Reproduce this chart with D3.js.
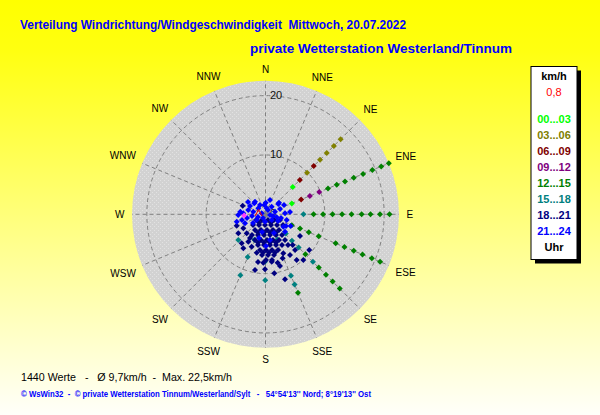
<!DOCTYPE html>
<html>
<head>
<meta charset="utf-8">
<script src="https://cdn.jsdelivr.net/npm/d3@7"></script>
<style>
  body { margin: 0; overflow: hidden; }
  svg { display: block; font-family: "Liberation Sans", Arial, sans-serif; }
  text { white-space: pre; }
</style>
</head>
<body>
<div id="chart"></div>
<script>
const width = 600, height = 415;

// ---- data ----
const directions = ["N","NNE","NE","ENE","E","ESE","SE","SSE","S","SSW","SW","WSW","W","WNW","NW","NNW"];
const ringValues = [0, 10, 20];
const maxSpeed = 22.5;
const hourLabels = ["00...03","03...06","06...09","09...12","12...15","15...18","18...21","21...24"];
const hourColors = ["#00ff00","#808000","#800000","#800080","#008000","#008080","#000080","#0000ff"];

// [direction in degrees, speed in km/h]
const hours00to03 = [[45,6.5],[67.5,4.8]];
const hours03to06 = [[45,9.9],[45,13.0],[45,14.6],[45,16.3],[45,17.9]];
const hours06to09 = [[45,8.2],[45,11.5],[67.5,6.5]];
const hours09to12 = [[67.5,8.1],[67.5,9.8]];
const hours12to15 = [
  [67.5,11.4],[67.5,13.0],[67.5,14.5],[67.5,16.1],[67.5,17.8],[67.5,19.5],[67.5,21.1],[67.5,22.5],
  [90,8.1],[90,9.7],[90,11.3],[90,12.9],[90,14.5],[90,16.2],[90,17.7],[90,19.3],[90,20.9],
  [112.5,4.8],[112.5,6.3],[112.5,7.9],[112.5,9.7],[112.5,12.8],[112.5,14.4],[112.5,16.1],[112.5,17.7],[112.5,19.4],[112.5,20.9],
  [135,9.5],[135,12.7],[135,14.4],[135,16.0],[135,17.7],
  [157.5,14.3]
];
const hours15to18 = [
  [90,6.4],[135,6.3],[135,7.9],[135,11.3],[157.5,11.2],[157.5,12.8],
  [226.6,6.3],[202.6,7.8],[202.4,11.1],[180.2,11.1],[133.3,4.7],[180.6,8.0],[203.5,4.7],[154.7,4.7]
];
const hours18to21 = [
  [239,1.87],[211.6,1.13],[156.3,1.05],[123.8,1.72],[111.5,2.63],
  [229.4,2.77],[211.3,2.11],[182.7,1.8],[152.8,2.03],[132.9,2.65],[121.4,3.46],
  [213.8,3.18],[196,2.75],[174.5,2.66],[154.5,2.93],[139.3,3.49],
  [213.1,4.17],[199.9,3.71],[184.1,3.5],[167.7,3.57],[153.1,3.91],[141.4,4.46],
  [202.2,4.68],[189.9,4.4],[176.7,4.34],[163.7,4.51],[152.3,4.89],[142.8,5.44],
  [193.7,5.33],[182.8,5.18],[171.7,5.23],[161.1,5.47],[151.7,5.87],
  [188.8,6.09],[179.2,6.02],[169.7,6.12],[160.7,6.38],
  [184.9,6.89],[176.5,6.87],[168.2,7.01],
  [179.4,7.7],[171.9,7.78],
  [248.4,5.22],[237.8,4.42],[235.1,5.59],[224.7,4.5],[219.4,6.32],[212.1,5.45],[213.1,6.84],
  [203.1,5.94],[192.9,6.64],[190.7,9.55],[180.5,9.27],[171.5,10.05],[163.3,11.44],[158.7,7.96],
  [149,8.01],[140.4,7.81],[122.2,6.87],[138.5,6.91],[155.5,7.23],[165.9,8.41],[172.5,8.06],
  [182.6,8.17],[290.7,4.11],[129.2,9.52],[140.4,10.0],[145.7,9.33],
  [213.2,4.77],[143.8,6.42],[188.9,8.14],[164.3,9.05],
  [202.4,3.32],[184.7,3.08],[166.1,3.16],[150,3.54],
  [194.9,4.92],[183,4.76],[170.9,4.81],[159.6,5.07],
  [183.7,6.45],[174.8,6.47],[166,6.63],
  [218.4,1.76],[146.1,1.66]
];
const hours21to24 = [
  [314.5,2.65],[352.6,1.58],[11.3,1.03],[39.2,1.65],[51.2,2.77],[74.7,1.66],[98.8,0.77],
  [284.7,0.66],[282,2.1],[284,3.0],[272.6,3.75],[268.5,4.6],[255.6,5.0],[246.3,3.77],
  [87.1,3.29],[105.1,3.7],[124.9,3.66],[131.7,4.4],[237,1.77],[183.9,1.25],[132.6,1.42],
  [105,1.95],[309.8,1.58],[1,1.96],[49.3,3.0],[275.9,4.27],[114.9,4.68],[119.7,3.98],
  [320.2,2.76],[191.2,3.04],[170.1,4.4],[179.1,5.34],[195.3,4.14],[155.6,3.46],
  [329.4,1.82],[30.2,0.84],[102.8,1.3],[250.2,1.34],[214,0.75],[69.9,2.6],[298.2,2.96],
  [258.7,3.18],[235.2,2.57],[118.2,2.39],
  [305.1,3.6],[17.5,2.53],[63.3,3.49],[84.6,4.15],[262.8,2.29],[256.4,4.08],[103.4,2.69]
];
const maxGust = [[267,3.6]];
const meanWind = [[284.4,1.2]];
const calmValue = "0,8";

const titleText = "Verteilung Windrichtung/Windgeschwindigkeit  Mittwoch, 20.07.2022";
const subtitleText = "private Wetterstation Westerland/Tinnum";
const footerText = "1440 Werte   -   Ø 9,7km/h  -  Max. 22,5km/h";
const creditText = "© WsWin32  -  © private Wetterstation Tinnum/Westerland/Sylt   -   54°54'13'' Nord; 8°19'13'' Ost";

const series = [hours00to03, hours03to06, hours06to09, hours09to12,
                hours12to15, hours15to18, hours18to21, hours21to24];

// ---- layout ----
const cx = 265.5, cy = 214.3, radius = 133.5;

const svg = d3.select("#chart").append("svg")
    .attr("width", width)
    .attr("height", height);

const defs = svg.append("defs");
const grad = defs.append("linearGradient")
    .attr("id", "bg")
    .attr("x1", 0).attr("y1", 0).attr("x2", 0).attr("y2", 1);
grad.append("stop").attr("offset", "0%").attr("stop-color", "#ffff00");
grad.append("stop").attr("offset", "12%").attr("stop-color", "#ffff10");
grad.append("stop").attr("offset", "60%").attr("stop-color", "#ffff90");
grad.append("stop").attr("offset", "100%").attr("stop-color", "#fffffa");

const pat = defs.append("pattern")
    .attr("id", "stipple")
    .attr("width", 4).attr("height", 4)
    .attr("patternUnits", "userSpaceOnUse");
pat.append("rect").attr("width", 4).attr("height", 4).attr("fill", "#d2d2d2");
pat.append("rect").attr("x", 0).attr("y", 0).attr("width", 1).attr("height", 1).attr("fill", "#e2e2e2");
pat.append("rect").attr("x", 2).attr("y", 2).attr("width", 1).attr("height", 1).attr("fill", "#e2e2e2");

svg.append("rect")
    .attr("width", width).attr("height", height)
    .attr("fill", "url(#bg)");

const rScale = d3.scaleLinear().domain([0, maxSpeed]).range([0, radius]);
const aScale = d3.scaleLinear().domain([0, 360]).range([0, 2 * Math.PI]);

const px = (dir, spd) => cx + rScale(spd) * Math.sin(aScale(dir));
const py = (dir, spd) => cy - rScale(spd) * Math.cos(aScale(dir));

const plot = svg.append("g");

plot.append("circle")
    .attr("cx", cx).attr("cy", cy)
    .attr("r", rScale(maxSpeed))
    .attr("fill", "url(#stipple)");

// grid
const grid = plot.append("g")
    .attr("fill", "none")
    .attr("stroke", "#808080")
    .attr("stroke-dasharray", "4,3");

grid.selectAll("circle")
    .data(ringValues.filter(d => d > 0))
    .join("circle")
    .attr("cx", cx).attr("cy", cy)
    .attr("r", d => rScale(d));

grid.selectAll("line")
    .data(directions.map((d, i) => i * 22.5))
    .join("line")
    .attr("x1", cx).attr("y1", cy)
    .attr("x2", d => px(d, maxSpeed))
    .attr("y2", d => py(d, maxSpeed));

// ring labels
plot.append("g")
    .selectAll("text")
    .data(ringValues)
    .join("text")
    .attr("x", cx + 4.5)
    .attr("y", d => py(0, d) + 3)
    .attr("font-size", 11)
    .attr("fill", "#111")
    .text(d => d);

// direction labels
const labelR = 141, capH = 7.2;
const dirLabels = svg.append("g")
    .attr("font-size", 10)
    .attr("fill", "#000");
directions.forEach((name, i) => {
    const a = aScale(i * 22.5);
    const t = dirLabels.append("text")
        .attr("text-anchor", "middle")
        .text(name);
    const w = t.node().getComputedTextLength();
    const r = labelR + w / 2 * Math.abs(Math.sin(a)) + capH / 2 * Math.abs(Math.cos(a));
    t.attr("x", cx + r * Math.sin(a))
     .attr("y", cy - r * Math.cos(a) + capH / 2);
});

// points
const marker = d3.symbol().type(d3.symbolSquare).size(18);
series.forEach((pts, i) => {
    plot.append("g")
        .selectAll("path")
        .data(pts)
        .join("path")
        .attr("d", marker)
        .attr("fill", hourColors[i])
        .attr("transform", d => `translate(${px(d[0], d[1])},${py(d[0], d[1])}) rotate(45)`);
});

plot.append("g")
    .selectAll("path")
    .data(maxGust)
    .join("path")
    .attr("d", marker)
    .attr("fill", "#ff40ff")
    .attr("transform", d => `translate(${px(d[0], d[1])},${py(d[0], d[1])}) rotate(45)`);

plot.append("g")
    .selectAll("path")
    .data(meanWind)
    .join("path")
    .attr("d", "M-3.5,3.5L0,-3L3.5,3.5")
    .attr("fill", "none")
    .attr("stroke", "#ff0000")
    .attr("stroke-width", 1)
    .attr("transform", d => `translate(${px(d[0], d[1])},${py(d[0], d[1])})`);

// titles
svg.append("text")
    .attr("x", 20).attr("y", 29)
    .attr("font-size", 12.5).attr("font-weight", "bold")
    .attr("fill", "#0000ff")
    .attr("textLength", 386).attr("lengthAdjust", "spacingAndGlyphs")
    .text(titleText);

svg.append("text")
    .attr("x", 250).attr("y", 53)
    .attr("font-size", 12.5).attr("font-weight", "bold")
    .attr("fill", "#0000ff")
    .attr("textLength", 262).attr("lengthAdjust", "spacingAndGlyphs")
    .text(subtitleText);

// legend
const lg = svg.append("g");
const lx = 531, ly = 66.5, lw = 46, lh = 193;
lg.append("rect")
    .attr("x", lx + 4).attr("y", ly + 4)
    .attr("width", lw).attr("height", lh)
    .attr("fill", "#000");
lg.append("rect")
    .attr("x", lx).attr("y", ly)
    .attr("width", lw).attr("height", lh)
    .attr("fill", "#fff").attr("stroke", "#000");

const lcx = lx + lw / 2;
lg.append("text")
    .attr("x", lcx).attr("y", 79.5)
    .attr("text-anchor", "middle")
    .attr("font-size", 11).attr("font-weight", "bold")
    .text("km/h");
lg.append("text")
    .attr("x", lcx).attr("y", 96)
    .attr("text-anchor", "middle")
    .attr("font-size", 11)
    .attr("fill", "#ff0000")
    .text(calmValue);

const legY = d3.scaleLinear().domain([0, 8]).range([119.3, 247]);
lg.selectAll("text.range")
    .data(hourLabels)
    .join("text")
    .attr("class", "range")
    .attr("x", lcx)
    .attr("y", (d, i) => legY(i) + 4)
    .attr("text-anchor", "middle")
    .attr("font-size", 11).attr("font-weight", "bold")
    .attr("fill", (d, i) => hourColors[i])
    .text(d => d);
lg.append("text")
    .attr("x", lcx).attr("y", legY(8) + 4)
    .attr("text-anchor", "middle")
    .attr("font-size", 11).attr("font-weight", "bold")
    .text("Uhr");

// footer
svg.append("text")
    .attr("x", 21).attr("y", 380.5)
    .attr("font-size", 11)
    .attr("fill", "#000")
    .attr("textLength", 211).attr("lengthAdjust", "spacingAndGlyphs")
    .text(footerText);

svg.append("text")
    .attr("x", 21).attr("y", 397)
    .attr("font-size", 8.5).attr("font-weight", "bold")
    .attr("fill", "#0000ff")
    .attr("textLength", 350).attr("lengthAdjust", "spacingAndGlyphs")
    .text(creditText);
</script>
</body>
</html>
